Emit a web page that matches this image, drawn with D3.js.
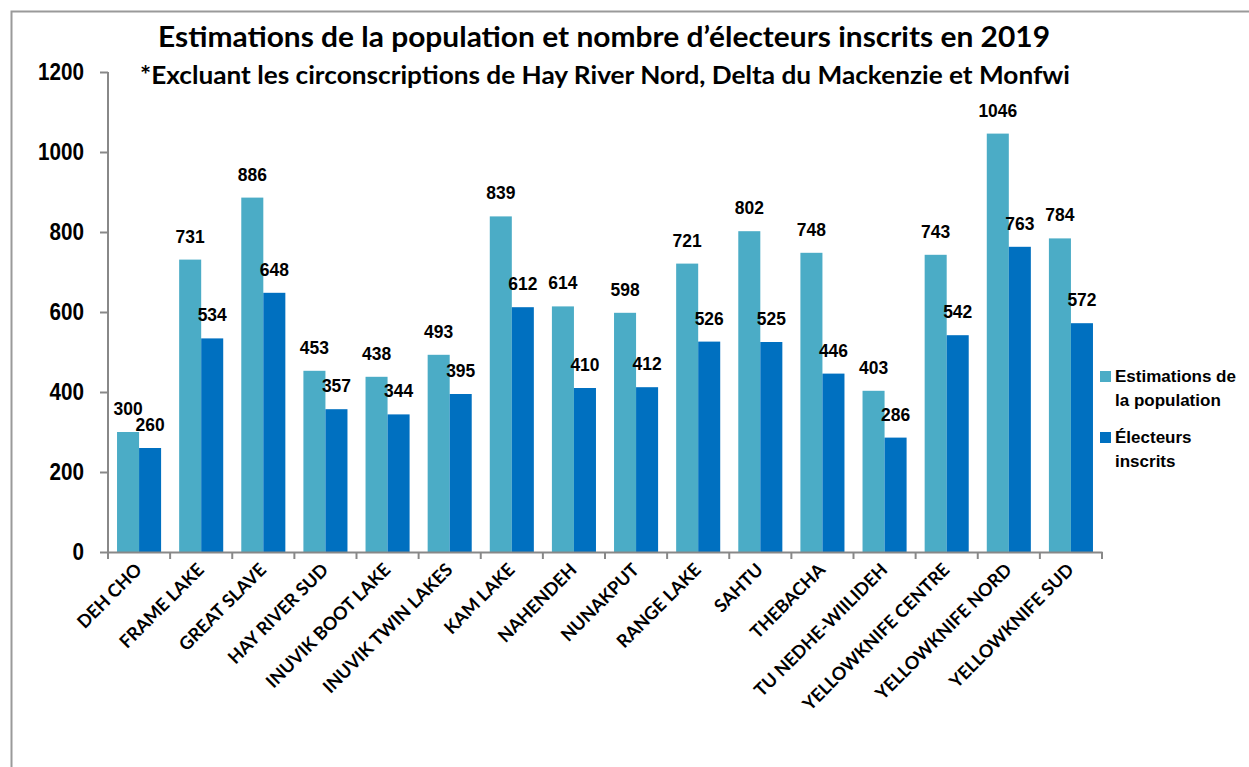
<!DOCTYPE html>
<html>
<head>
<meta charset="utf-8">
<script src="https://cdn.jsdelivr.net/npm/d3@7"></script>
<style>
  body { margin: 0; background: #fff; }
  svg { display: block; }
</style>
</head>
<body>
<div id="chart"></div>
<script>
// data
var circonscriptions = ["DEH CHO", "FRAME LAKE", "GREAT SLAVE", "HAY RIVER SUD", "INUVIK BOOT LAKE",
  "INUVIK TWIN LAKES", "KAM LAKE", "NAHENDEH", "NUNAKPUT", "RANGE LAKE", "SAHTU", "THEBACHA",
  "TU NEDHE-WIILIDEH", "YELLOWKNIFE CENTRE", "YELLOWKNIFE NORD", "YELLOWKNIFE SUD"];
var population = [300, 731, 886, 453, 438, 493, 839, 614, 598, 721, 802, 748, 403, 743, 1046, 784];
var electeurs = [260, 534, 648, 357, 344, 395, 612, 410, 412, 526, 525, 446, 286, 542, 763, 572];
var yTicks = [0, 200, 400, 600, 800, 1000, 1200];
var seriesNames = ["Estimations de la population", "Électeurs inscrits"];

var W = 1249, H = 767;
var margin = { top: 72, left: 108, right: 147, bottom: 215 };
var width = W - margin.left - margin.right;
var height = H - margin.top - margin.bottom;

var colors = ["#4BACC6", "#0070C0"];
var numFont = "'Liberation Sans', Arial, sans-serif";
var titleFont = "Lato, 'Open Sans', sans-serif";

var svg = d3.select("#chart").append("svg")
  .attr("width", W).attr("height", H);

// outer frame (right/bottom edges are off the picture)
svg.append("rect")
  .attr("x", 11.5).attr("y", 11.5)
  .attr("width", W + 20).attr("height", H + 20)
  .attr("fill", "none").attr("stroke", "#9a9a9a").attr("stroke-width", 2);

var g = svg.append("g")
  .attr("transform", "translate(" + margin.left + "," + margin.top + ")");

var x = d3.scaleBand().domain(circonscriptions).range([0, width]).paddingInner(0).paddingOuter(0);
var x1 = d3.scaleBand().domain([0, 1]).range([0, x.bandwidth()]).paddingOuter(0.41).paddingInner(0);
var y = d3.scaleLinear().domain([0, 1200]).range([height, 0]);

// y axis
var yAxis = g.append("g")
  .call(d3.axisLeft(y).tickValues(yTicks).tickSize(8).tickPadding(16).tickFormat(d3.format("d")));
yAxis.select(".domain").attr("stroke", "#888").attr("stroke-width", 2).attr("d", "M0," + height + "V0");
yAxis.selectAll(".tick line").attr("stroke", "#888").attr("stroke-width", 2);
yAxis.selectAll(".tick text")
  .attr("font-family", numFont).attr("font-weight", "bold").attr("font-size", 23).attr("fill", "#000")
  .attr("textLength", function(d) { return String(d).length * 11.5; })
  .attr("lengthAdjust", "spacingAndGlyphs");

// bars
var groups = g.selectAll(".grp")
  .data(circonscriptions)
  .enter().append("g")
  .attr("class", "grp")
  .attr("transform", function(d) { return "translate(" + x(d) + ",0)"; });

[population, electeurs].forEach(function(serie, s) {
  groups.append("rect")
    .attr("x", x1(s))
    .attr("width", x1.bandwidth())
    .attr("y", function(d, i) { return y(serie[i]); })
    .attr("height", function(d, i) { return height - y(serie[i]); })
    .attr("fill", colors[s]);

  groups.append("text")
    .attr("x", x1(s) + x1.bandwidth() / 2)
    .attr("y", function(d, i) { return y(serie[i]) - 17; })
    .attr("text-anchor", "middle")
    .attr("font-family", numFont).attr("font-weight", "bold").attr("font-size", 19)
    .attr("textLength", function(d, i) { return String(serie[i]).length * 9.7; })
    .attr("lengthAdjust", "spacingAndGlyphs")
    .text(function(d, i) { return serie[i]; });
});

// x axis
var xAxis = g.append("g")
  .attr("transform", "translate(0," + height + ")")
  .call(d3.axisBottom(x).tickSize(0).tickFormat(""));
xAxis.select(".domain").attr("stroke", "#888").attr("stroke-width", 2);
xAxis.selectAll(".tick").remove();
// tick marks on band edges
xAxis.selectAll(".edge")
  .data(circonscriptions.concat(["end"]))
  .enter().append("line")
  .attr("x1", function(d, i) { return i * x.step(); })
  .attr("x2", function(d, i) { return i * x.step(); })
  .attr("y1", 0).attr("y2", 7)
  .attr("stroke", "#888").attr("stroke-width", 2);

xAxis.selectAll(".lbl")
  .data(circonscriptions)
  .enter().append("text")
  .attr("transform", function(d) {
    return "translate(" + (x(d) + x.bandwidth() / 2 + 4) + ",19) rotate(-45)";
  })
  .attr("text-anchor", "end")
  .attr("font-family", titleFont).attr("font-weight", "bold").attr("font-size", 18)
  .attr("fill", "#000")
  .text(function(d) { return d; });

// titles
svg.append("text")
  .attr("x", 604).attr("y", 47)
  .attr("text-anchor", "middle")
  .attr("font-family", titleFont).attr("font-weight", "bold").attr("font-size", 28)
  .attr("textLength", 892).attr("lengthAdjust", "spacingAndGlyphs")
  .text("Estimations de la population et nombre d’électeurs inscrits en 2019");
svg.append("text")
  .attr("x", 605).attr("y", 84)
  .attr("text-anchor", "middle")
  .attr("font-family", titleFont).attr("font-weight", "bold").attr("font-size", 24)
  .attr("textLength", 930).attr("lengthAdjust", "spacingAndGlyphs")
  .text("*Excluant les circonscriptions de Hay River Nord, Delta du Mackenzie et Monfwi");

// legend
var legend = svg.append("g").attr("transform", "translate(1100,371)");
var legendLines = [["Estimations de", "la population"], ["Électeurs", "inscrits"]];
legendLines.forEach(function(lines, i) {
  var lg = legend.append("g").attr("transform", "translate(0," + (i * 61) + ")");
  lg.append("rect").attr("width", 11).attr("height", 11).attr("fill", colors[i]);
  lg.append("text")
    .attr("x", 15).attr("y", 11)
    .attr("font-family", "'Liberation Sans', Arial, sans-serif")
    .attr("font-weight", "bold").attr("font-size", 17)
    .selectAll("tspan").data(lines).enter().append("tspan")
    .attr("x", 15).attr("dy", function(d, j) { return j ? 24 : 0; })
    .text(function(d) { return d; });
});
</script>
</body>
</html>
